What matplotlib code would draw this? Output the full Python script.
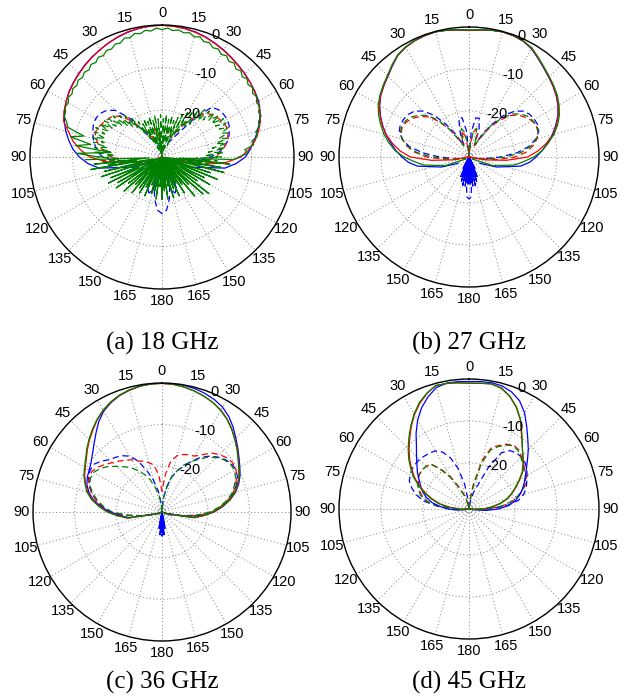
import numpy as np
import matplotlib
matplotlib.use('Agg')
import matplotlib.pyplot as plt

# ---------------- angle grids (deg, 0 = top, clockwise positive) ----------------
ANGLES = [-120, -110, -100, -95, -90, -85, -80, -75, -70, -65, -60, -55, -50, -45, -40,
          -35, -30, -25, -20, -15, -10, -5, 0, 5, 10, 15, 20, 25, 30, 35, 40, 45, 50,
          55, 60, 65, 70, 75, 80, 85, 90, 95, 100, 110, 120]

THETA_TICKS = list(range(0, 360, 15))
THETA_LABELS = ['0', '15', '30', '45', '60', '75', '90', '105', '120', '135', '150', '165',
                '180', '165', '150', '135', '120', '105', '90', '75', '60', '45', '30', '15']
R_TICKS = [-30, -20, -10, 0]
R_LABELS = ['', '-20', '-10', '0']
CAPTIONS = ['(a) 18 GHz', '(b) 27 GHz', '(c) 36 GHz', '(d) 45 GHz']

# ---------------- (a) 18 GHz ----------------
A_BLUE_SOLID = [-29, -24, -16, -13.5, -11.6, -10, -8.8, -7.6, -6.6, -5.7, -5.0, -4.3, -3.8, -3.3, -2.8,
                -2.3, -1.9, -1.4, -1.0, -0.6, -0.3, -0.1, 0, -0.1, -0.3, -0.6, -1.0, -1.5, -2.0, -2.5, -3.0,
                -3.4, -3.9, -4.3, -4.8, -5.6, -6.6, -7.8, -9.0, -10.2, -11.4, -13.5, -16, -24, -29]
A_RED_SOLID = [-31, -29, -24, -18, -14, -11.8, -9.8, -8.3, -6.4, -5.6, -5.0, -4.4, -3.9, -3.4, -2.9,
               -2.4, -1.9, -1.4, -0.9, -0.5, -0.3, -0.1, -0.1, -0.2, -0.4, -0.7, -1.1, -1.6, -2.1, -2.6, -3.1,
               -3.5, -3.9, -4.4, -5.0, -5.6, -6.4, -7.5, -8.8, -10.5, -12.5, -16, -21, -28, -31]
A_BLUE_DASH = [-31, -28, -24, -20, -17, -15.8, -15, -14.3, -13.7, -13.2, -13, -13.2, -14, -15.5, -19,
               -24, -26, -27, -28, -28, -29, -30, -31, -30, -29, -28, -28, -27, -26, -24, -19,
               -14.5, -13.7, -13.4, -13.3, -13.6, -14.2, -14.8, -16, -17.5, -19.5, -22, -25, -28, -31]
A_RED_DASH = [-31, -29, -24, -21, -19, -17.5, -16, -15, -14.3, -14.5, -15, -15.5, -16, -17.5, -20,
              -23, -25, -26, -25, -24, -25, -27, -31, -27, -25, -24, -25, -26, -24, -21, -18.5,
              -16.5, -15.5, -15, -14.5, -14.3, -14.5, -15, -16, -17, -18.5, -20.5, -24, -29, -31]
# green solid, front part (-90..90 every 2.5 deg)
A_GREEN_FRONT_ANG = np.arange(-90, 92.5, 2.5)
A_GREEN_FRONT = [-16, -11, -19, -10.5, -14, -9, -12, -7.8, -7.2, -6.2, -6.0, -5.4, -5.6, -4.9, -5.2,
                 -4.6, -4.9, -4.3, -4.6, -4.0, -4.3, -3.6, -3.9, -3.2, -3.5, -2.8, -3.0, -2.3, -2.5,
                 -1.7, -2.0, -1.3, -1.6, -1.0, -1.3, -0.7, -1.1, -0.7, -1.2, -0.9, -1.4, -1.1, -1.8,
                 -1.4, -2.2, -1.9, -2.7, -2.4, -3.2, -2.8, -3.6, -3.2, -4.0, -3.6, -4.3, -3.9, -4.6,
                 -4.2, -5.0, -4.6, -5.4, -5.1, -6.0, -5.8, -6.9, -7.0, -8.2, -8.0, -9.6, -9.3, -11.5,
                 -10.8, -13]
# green solid, back part (92..268 every 2 deg) -- very spiky
A_GREEN_BACK_ANG = np.arange(92, 270, 2)
A_GREEN_BACK = [-14, -27, -15, -30, -17, -25, -16, -31, -19, -27, -17, -29, -20, -26, -18, -31,
                -21, -28, -17, -30, -18, -26, -22, -31, -19, -27, -23, -30, -21, -28, -24, -31,
                -21, -27, -23, -30, -21, -26, -24, -31, -21, -28, -23, -30, -21, -27, -24, -31,
                -21, -28, -23, -30, -22, -26, -24, -31, -21, -28, -23, -30, -21, -27, -22, -31,
                -20, -26, -22, -30, -19, -27, -21, -31, -18, -26, -19, -29, -17, -25, -18, -30,
                -16, -26, -17, -29, -14, -25, -15, -28, -13]
# green dashed (-100..100 every 2 deg) -- noisy
A_GREEN_DASH_ANG = np.arange(-100, 102, 2)
A_GREEN_DASH = [-22, -18, -24, -17, -21, -16, -20, -15, -19, -15, -18, -14.5, -17, -14, -17, -14,
                -16.5, -14, -17, -14.5, -17.5, -15, -18, -15.5, -19, -16, -20, -17, -21, -18, -22,
                -19.5, -24, -21, -26, -22, -27, -21, -29, -22, -28, -21, -30, -22, -27, -21, -29,
                -22, -30, -21, -31, -22, -28, -21, -30, -22, -27, -21, -29, -22, -26, -21, -28,
                -20, -25, -19, -24, -18, -22, -17, -21, -16, -19, -15.5, -18, -15, -17, -14.5, -17,
                -14, -16.5, -14, -16, -14, -16, -14.5, -17, -15, -18, -15.5, -19, -16, -20, -16.5,
                -21, -17, -23, -18, -25, -20, -27]
A_BACK_ANG = [130, 140, 150, 155, 160, 165, 170, 175, 180, 185, 190, 195, 200, 205, 210, 220, 230]
A_BLUE_SOLID_BACK = [-31, -31, -27, -23, -22, -23, -27, -31, -31, -31, -27, -23, -22, -23, -27, -31, -31]
A_BLUE_DASH_BACK = [-31, -31, -31, -29, -27, -24, -21, -18.5, -17.7, -18.5, -21, -24, -27, -29, -31, -31, -31]

# ---------------- (b) 27 GHz ----------------
B_BLUE_SOLID = [-28, -24, -18.5, -16.5, -15, -13.5, -12.1, -10.5, -9.1, -7.7, -6.4, -5.3, -4.5, -3.7, -2.6,
                -1.4, -0.8, -0.4, -0.2, -0.1, -0.3, -0.6, -0.8, -0.6, -0.3, -0.1, -0.2, -0.5, -1.2, -2.3,
                -3.3, -4.1, -4.8, -5.6, -6.5, -7.6, -9.0, -10.4, -12, -13.5, -15, -16.5, -18.5, -24, -28]
B_RED_SOLID = [-31, -31, -27, -22, -17, -14.5, -12.5, -10.6, -9.0, -7.6, -6.3, -5.3, -4.5, -3.6, -2.5,
               -1.4, -0.8, -0.4, -0.2, -0.1, -0.3, -0.6, -0.8, -0.6, -0.3, -0.1, -0.2, -0.5, -1.1, -2.2,
               -3.2, -4.0, -4.8, -5.5, -6.4, -7.5, -8.8, -10.2, -12.3, -14.5, -17, -22, -27, -31, -31]
B_GREEN_SOLID = [-30, -25, -20, -18, -15.5, -13.3, -11.6, -10.0, -8.6, -7.2, -6.0, -5.1, -4.3, -3.5, -2.4,
                 -1.3, -0.7, -0.3, -0.1, -0.1, -0.3, -0.5, -0.7, -0.5, -0.3, -0.1, -0.1, -0.4, -1.0, -2.1,
                 -3.1, -3.9, -4.6, -5.3, -6.2, -7.2, -8.5, -10.0, -11.8, -13.5, -15.5, -18, -20, -25, -30]
B_BLUE_DASH = [-31, -31, -29, -27, -24, -20, -16.5, -14.5, -13.3, -12.9, -13, -13.3, -14, -15.5, -18,
               -21.5, -25, -28, -25, -21.5, -21.5, -25, -31, -25, -21.5, -21.5, -24, -28, -25, -21.5,
               -18, -15.5, -14, -13.3, -13, -12.9, -13.3, -14.5, -16.5, -19.5, -23.5, -27, -29, -31, -31]
B_RED_DASH = [-31, -31, -28, -25, -21, -18, -16, -14.5, -13.8, -13.5, -14, -14.8, -16, -17.5, -20,
              -23, -26, -28, -27, -24.5, -26, -29, -31, -28, -25, -24, -25, -28, -26, -22.5,
              -19.5, -17, -15.5, -14.5, -13.7, -13.3, -13.5, -14.2, -15.5, -17.2, -20, -24, -28, -31, -31]
B_GREEN_DASH = [-31, -31, -29, -26, -22, -18.5, -16, -14.5, -13.6, -13.3, -13.6, -14.3, -15.5, -17, -19.5,
                -23, -26.5, -28, -26, -24, -25, -28, -31, -28, -24.5, -24, -26, -28, -26, -22,
                -19, -16.5, -15, -14, -13.5, -13.2, -13.4, -14.3, -16, -18.5, -22, -26, -29, -31, -31]
B_BLUE_FINGER_ANG = np.arange(150, 212.5, 2.5)
B_BLUE_FINGER = [-31, -28, -31, -26, -31, -25, -31, -24, -30, -24, -30, -24.5, -31, -24.5, -30, -24,
                 -30, -24, -31, -25, -31, -26, -31, -28, -31]
B_BLUE_DASH_BACK_ANG = [170, 174, 177, 180, 183, 186, 190]
B_BLUE_DASH_BACK = [-31, -25, -21.5, -21, -21.5, -25, -31]

# ---------------- (c) 36 GHz ----------------
C_BLUE_SOLID = [-31, -30, -23, -21, -18.5, -16.3, -14.3, -12.8, -11.8, -11.2, -10.8, -10.2, -9.2, -7.9, -6.3,
                -4.5, -3.0, -2.0, -1.2, -0.7, -0.3, -0.1, 0, 0, -0.1, -0.3, -0.7, -1.2, -1.9, -3.0,
                -4.4, -5.9, -7.2, -8.4, -9.4, -10.3, -11.4, -12.7, -14.4, -16.4, -18.5, -21, -23.5, -30, -31]
C_RED_SOLID = [-31, -30, -22.5, -20.5, -18, -16, -14, -12.5, -11.5, -10.5, -9.7, -8.8, -7.6, -6.4, -5.2,
               -3.9, -2.8, -1.9, -1.2, -0.7, -0.3, -0.1, -0.1, -0.2, -0.5, -0.9, -1.4, -2.0, -2.7, -3.7,
               -4.9, -6.2, -7.4, -8.6, -9.6, -10.5, -11.6, -12.8, -14.5, -16.5, -18.5, -21, -23, -30, -31]
C_GREEN_SOLID = [-31, -30, -22.8, -20.3, -17.8, -15.8, -13.8, -12.3, -11.3, -10.3, -9.5, -8.6, -7.4, -6.2, -5.0,
                 -3.8, -2.7, -1.8, -1.1, -0.6, -0.3, -0.1, -0.1, -0.2, -0.5, -0.9, -1.4, -2.0, -2.8, -3.8,
                 -5.0, -6.3, -7.5, -8.7, -9.7, -10.6, -11.7, -12.9, -14.6, -16.7, -18.8, -21.2, -23.3, -30, -31]
C_BLUE_DASH = [-31, -29, -26, -22, -18.5, -16.5, -15, -13.5, -12.5, -11.5, -11, -11, -12, -13.2, -13.8,
               -14.5, -15.5, -17.5, -20.5, -23, -26, -29, -31, -28, -25, -22.5, -20.5, -19, -17, -15,
               -13.5, -12.3, -11.3, -10.7, -10.5, -11, -12, -13.2, -14.8, -16.5, -18.8, -22, -26, -29, -31]
C_RED_DASH = [-31, -30, -25, -22, -18.5, -16.5, -15, -13.5, -12.3, -11.7, -11.5, -12.2, -13.2, -14.2, -15,
              -15.8, -16.5, -17.5, -18, -18.7, -19.5, -22, -26, -22, -18.5, -17, -16.3, -15.8, -15.5, -14.2,
              -12.5, -11.5, -10.7, -10.3, -10.5, -11.2, -12.2, -13.3, -15, -17, -19, -22, -25, -30, -31]
C_GREEN_DASH = [-31, -30, -25.5, -22.5, -19, -17, -15.3, -13.8, -12.6, -12, -12, -12.8, -14, -15.5, -16.8,
                -18, -19.5, -21, -22.8, -25, -27, -29, -31, -28, -25.5, -22.5, -20.5, -18.5, -17, -15.5,
                -13.8, -12.5, -11.5, -10.9, -10.9, -11.5, -12.5, -13.6, -15.2, -17.2, -19.5, -22.5, -25.5, -30, -31]
C_BLUE_FINGER_ANG = np.arange(165, 197.5, 2.5)
C_BLUE_FINGER = [-31, -29, -27, -30, -25.5, -29, -26, -29, -25.5, -30, -27, -29, -31]
C_BLUE_DASH_BACK_ANG = [172, 176, 178, 180, 182, 184, 188]
C_BLUE_DASH_BACK = [-31, -28, -26, -25.2, -26, -28, -31]

# ---------------- (d) 45 GHz ----------------
D_BLUE_SOLID = [-31, -31, -30, -28, -26, -24, -22, -20.5, -19.3, -18.3, -17.3, -16, -14.8, -13.3, -11.5,
                -9, -6.5, -4.3, -2.5, -1.0, -0.5, -0.5, -0.6, -0.5, -0.4, -0.6, -1.3, -2.5, -4.5, -7,
                -9.2, -11, -12.8, -14.3, -15.5, -16.5, -17.5, -18.6, -19.8, -21.5, -24, -27, -30, -31, -31]
D_RED_SOLID = [-31, -31, -31, -30, -29, -26.5, -24, -22, -20, -18, -16, -14.3, -12.5, -10.8, -9,
               -7, -5, -3.2, -1.7, -0.5, -0.6, -0.8, -1.0, -0.9, -0.7, -1.2, -2.5, -4.3, -6.5, -9.2,
               -11.3, -12.8, -14, -15.3, -17, -18.6, -20, -21.5, -23.3, -25.5, -27.5, -30, -31, -31, -31]
D_GREEN_SOLID = [-31, -31, -31, -30, -28.5, -26, -23.7, -21.7, -19.7, -17.7, -15.7, -14.0, -12.2, -10.5, -8.7,
                 -6.8, -4.8, -3.0, -1.6, -0.5, -0.6, -0.8, -1.0, -0.9, -0.7, -1.1, -2.4, -4.2, -6.4, -9.0,
                 -11.2, -12.9, -14.2, -15.5, -17.2, -18.8, -20.2, -21.7, -23.5, -25.7, -27.8, -30, -31, -31, -31]
D_BLUE_DASH = [-31, -31, -31, -29, -27, -23.5, -20, -18, -16.5, -15.3, -14.8, -14.4, -14.3, -14.3, -14.5,
               -14.7, -15, -16, -18, -21, -25, -29, -31, -31, -29, -27, -25, -20, -15.5, -14,
               -13.5, -13.4, -13.6, -14.2, -15, -15.8, -16.5, -17.5, -19, -22, -26, -30, -31, -31, -31]
D_RED_DASH = [-31, -31, -31, -30, -28, -24, -21, -19.5, -18.5, -17.7, -17, -16.6, -16.5, -16.6, -17,
              -19.5, -22, -25, -27, -28.5, -30, -31, -31, -29, -25, -19, -15.5, -14.3, -13.2, -12.4,
              -12.6, -13.3, -14.1, -14.7, -15.2, -16, -17.2, -18.7, -20.5, -23, -27, -30, -31, -31, -31]
D_GREEN_DASH = [-31, -31, -31, -30, -27.5, -23.5, -20.8, -19.2, -18.2, -17.5, -16.9, -16.5, -16.4, -16.6, -17.2,
                -19.8, -22.5, -25.5, -27.5, -29, -30, -31, -31, -29.5, -26, -20, -16, -14.6, -13.4, -12.6,
                -12.8, -13.5, -14.3, -14.9, -15.4, -16.2, -17.4, -18.9, -20.8, -23.3, -27.5, -30, -31, -31, -31]

# ---------------- figure ----------------
RMIN, RMAX = -31, 0
BLUE, RED, GREEN = '#0000ff', '#ff0000', '#008000'
DASH = (0, (5, 3))
TICK_FS = 10.5
THETA_LABEL_R = RMIN + 1.09 * (RMAX - RMIN)   # labels sit just outside the circle
RLABEL_ANGLE = 22

fig = plt.figure(figsize=(6.28, 6.96), dpi=100)
plt.rcParams['font.family'] = ['Liberation Sans', 'DejaVu Sans']

# (center_x, center_y, radius) in pixels
PANEL_GEOM = [(162, 157, 132), (469, 157, 130), (162, 512, 129), (469, 509, 130)]
CAPTION_Y = [343, 343, 682, 682]
W, H = 628, 696


def make_ax(cx, cy, r):
    ax = fig.add_axes([(cx - r) / W, 1 - (cy + r) / H, 2 * r / W, 2 * r / H], projection='polar')
    ax.set_theta_zero_location('N')
    ax.set_theta_direction(-1)
    ax.set_ylim(RMIN, RMAX)
    ax.set_xticks(np.deg2rad(THETA_TICKS))
    ax.set_xticklabels([])
    ax.set_yticks(R_TICKS)
    ax.set_yticklabels([])
    ax.tick_params(length=0)
    ax.grid(True, color='0.5', linestyle=(0, (1, 2.5)), linewidth=0.7)
    ax.spines['polar'].set_linewidth(1.0)
    ax.spines['polar'].set_color('black')
    for t, lab in zip(THETA_TICKS, THETA_LABELS):
        ax.text(np.deg2rad(t), THETA_LABEL_R, lab, ha='center', va='center',
                fontsize=TICK_FS, clip_on=False)
    for rv, lab in zip(R_TICKS, R_LABELS):
        if lab:
            ax.text(np.deg2rad(RLABEL_ANGLE), rv, lab, ha='left', va='center',
                    fontsize=TICK_FS, clip_on=False)
    return ax


def line(ax, ang, vals, color, ls='-'):
    ax.plot(np.deg2rad(np.asarray(ang, dtype=float)), vals, color=color, lw=0.9, linestyle=ls)


axes = [make_ax(*g) for g in PANEL_GEOM]

# (a)
ax = axes[0]
line(ax, ANGLES, A_BLUE_DASH, BLUE, DASH)
line(ax, A_BACK_ANG, A_BLUE_DASH_BACK, BLUE, DASH)
line(ax, ANGLES, A_RED_DASH, RED, DASH)
line(ax, A_GREEN_DASH_ANG, A_GREEN_DASH, GREEN, DASH)
line(ax, ANGLES, A_BLUE_SOLID, BLUE)
line(ax, A_BACK_ANG, A_BLUE_SOLID_BACK, BLUE)
line(ax, ANGLES, A_RED_SOLID, RED)
line(ax, np.concatenate([A_GREEN_FRONT_ANG, A_GREEN_BACK_ANG]), A_GREEN_FRONT + A_GREEN_BACK, GREEN)

# (b)
ax = axes[1]
line(ax, ANGLES, B_BLUE_DASH, BLUE, DASH)
line(ax, B_BLUE_DASH_BACK_ANG, B_BLUE_DASH_BACK, BLUE, DASH)
line(ax, ANGLES, B_RED_DASH, RED, DASH)
line(ax, ANGLES, B_GREEN_DASH, GREEN, DASH)
line(ax, ANGLES, B_BLUE_SOLID, BLUE)
line(ax, B_BLUE_FINGER_ANG, B_BLUE_FINGER, BLUE)
line(ax, ANGLES, B_RED_SOLID, RED)
line(ax, ANGLES, B_GREEN_SOLID, GREEN)

# (c)
ax = axes[2]
line(ax, ANGLES, C_BLUE_DASH, BLUE, DASH)
line(ax, C_BLUE_DASH_BACK_ANG, C_BLUE_DASH_BACK, BLUE, DASH)
line(ax, ANGLES, C_RED_DASH, RED, DASH)
line(ax, ANGLES, C_GREEN_DASH, GREEN, DASH)
line(ax, ANGLES, C_BLUE_SOLID, BLUE)
line(ax, C_BLUE_FINGER_ANG, C_BLUE_FINGER, BLUE)
line(ax, ANGLES, C_RED_SOLID, RED)
line(ax, ANGLES, C_GREEN_SOLID, GREEN)

# (d)
ax = axes[3]
line(ax, ANGLES, D_BLUE_DASH, BLUE, DASH)
line(ax, ANGLES, D_RED_DASH, RED, DASH)
line(ax, ANGLES, D_GREEN_DASH, GREEN, DASH)
line(ax, ANGLES, D_BLUE_SOLID, BLUE)
line(ax, ANGLES, D_RED_SOLID, RED)
line(ax, ANGLES, D_GREEN_SOLID, GREEN)

for (cx, cy, r), cap, y in zip(PANEL_GEOM, CAPTIONS, CAPTION_Y):
    fig.text(cx / W, 1 - y / H, cap, ha='center', va='center', fontsize=18,
             family=['Liberation Serif', 'DejaVu Serif'])

fig.savefig('out.png', dpi=100, facecolor='white')
